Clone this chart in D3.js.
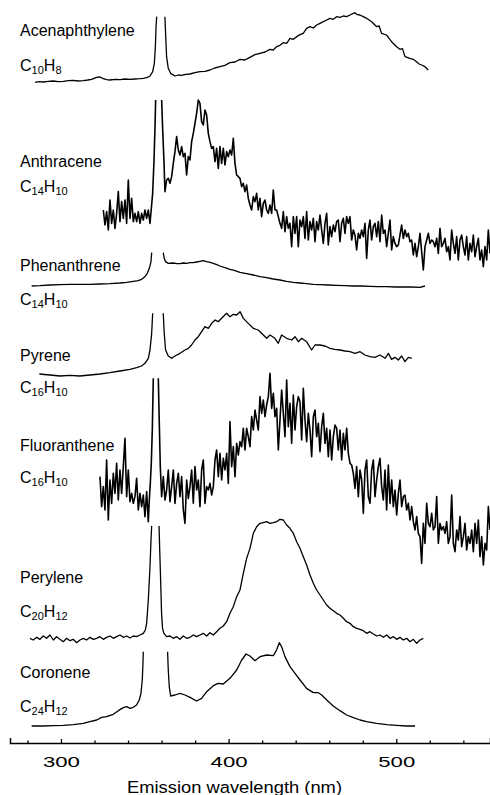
<!DOCTYPE html>
<html><head><meta charset="utf-8">
<script src="https://cdn.jsdelivr.net/npm/d3@7"></script>
<style>
body{margin:0;background:#fff}
svg{display:block}
text{font-family:Arial,"Liberation Sans",sans-serif;fill:#000}
</style>
</head><body>
<svg id="chart" width="490" height="795"></svg>
<script>
// ---------------- DATA ----------------
const compounds = ["Acenaphthylene","Anthracene","Phenanthrene","Pyrene","Fluoranthene","Perylene","Coronene"];
const formulas  = ["C10H8","C14H10","C14H10","C16H10","C16H10","C20H12","C24H12"];
// vertical offset of each stacked spectrum (a.u.)
const offsets   = [1979, 1404, 1364, 1094, 519, 299, 39];
const xDomain = [269.6, 555.9];         // nm
const yDomain = [0, 2229];              // stacked intensity (a.u.)
const majorTicks = [300, 400, 500];
const minorTicks = [280, 320, 340, 360, 380, 420, 440, 460, 480, 520, 540];
const axisTitle = "Emission wavelength (nm)";

// [wavelength nm, intensity a.u.]; null = off-scale (clipped scatter line)
const acenaphthylene = [[284.5,3],[287.0,5],[289.5,4],[292.4,6],[295.4,7],[298.4,5],[301.4,6],[304.4,8],[307.4,9],[310.3,7],[313.3,8],[316.0,10],[318.3,12],[321.3,18],[323.3,19],[325.2,14],[327.2,11],[329.2,10],[332.2,12],[335.2,11],[338.2,13],[341.2,12],[344.1,13],[347.1,14],[349.1,15],[351.1,17],[353.1,22],[354.7,35],[355.7,60],[356.3,110],[356.7,170],[357.1,200],null,[362.0,200],[362.4,150],[363.0,80],[364.0,45],[365.4,30],[368.0,22],[370.0,25],[372.0,24],[374.4,27],[376.9,28],[379.9,32],[382.9,35],[385.9,36],[388.9,40],[391.8,46],[394.8,50],[397.8,54],[400.8,62],[403.8,64],[406.8,72],[409.7,70],[412.7,78],[415.7,86],[418.7,90],[421.7,94],[424.7,102],[426.6,100],[428.6,110],[430.6,114],[432.6,122],[434.6,120],[436.6,135],[438.6,132],[440.6,140],[442.5,146],[444.5,150],[446.5,165],[448.5,170],[450.5,166],[452.5,175],[454.5,180],[456.5,185],[458.5,190],[460.4,195],[462.4,192],[464.4,200],[466.4,198],[468.4,202],[470.4,200],[472.4,205],[475.3,212],[476.8,206],[478.3,205],[480.3,200],[482.3,195],[485.3,185],[488.3,170],[489.8,172],[491.2,150],[494.2,145],[495.7,135],[497.2,125],[500.2,110],[502.2,102],[503.7,104],[505.2,80],[508.1,75],[510.1,72],[512.1,65],[513.6,58],[515.1,55],[517.1,50],[519.1,40]];

const gridStep = 0.9942; // nm, sampling of the noisy spectra
const anthraceneLeftStart = 325.25;
const anthraceneLeft = [195,150,190,135,225,155,195,140,185,250,160,220,170,225,155,285,170,230,160,185,160,190,155,185,165,195,170,195,155,210];
const anthracenePeak = [[354.68,245],[355.47,340],[356.07,440],[356.47,525],null,[360.05,525],[360.64,440],[361.44,340]];
const anthraceneRightStart = 362.03;
const anthraceneRight = [250,285,290,275,295,335,370,415,375,360,385,355,365,300,355,345,400,425,455,485,525,515,460,450,495,480,425,400,380,385,340,380,320,385,335,380,330,370,355,375,360,410,335,300,295,290,265,275,250,270,230,210,195,235,220,245,195,230,175,215,225,195,185,210,185,255,195,195,175,155,140,190,130,175,140,
155,85,175,125,175,85,165,145,175,110,190,105,160,135,170,100,160,135,180,135,95,155,185,90,145,115,150,130,160,165,100,155,170,125,175,155,175,105,135,120,75,125,110,135,115,155,50,135,165,105,145,155,115,160,100,180,125,135,85,125,165,75,115,95,85,90,120,150,110,135,115,125,100,105,60,95,55,85,125,70,15,85,105,125,95,105,100,85,110,65,140,85,95,110,70,85,45,135,95,65,115,45,105,120,85,60,115,45,95,70,120,55,85,110,45,75,25,85,45,135,65];

const phenanthrene = [[282.5,7],[287.5,8],[293.4,10],[299.4,11],[305.4,12],[311.3,12],[317.3,12],[323.3,13],[329.2,14],[335.2,16],[339.2,18],[343.1,21],[346.1,23],[348.1,27],[350.1,35],[351.5,45],[352.7,60],[353.7,80],[354.1,107],null,[361.0,107],[361.6,90],[362.4,80],[364.0,75],[367.0,76],[369.0,74],[371.0,74],[373.0,76],[375.0,75],[377.0,77],[378.9,77],[380.9,79],[382.9,81],[384.9,83],[386.9,80],[388.9,78],[390.9,75],[392.9,71],[394.8,67],[397.8,62],[400.8,57],[403.8,53],[406.8,48],[410.7,44],[414.7,40],[418.7,35],[422.7,32],[426.6,28],[430.6,25],[434.6,21],[438.6,18],[442.5,16],[446.5,14],[450.5,12],[454.5,11],[459.4,10],[464.4,9],[469.4,8],[474.4,7],[479.3,7],[484.3,6],[489.3,5],[494.3,5],[499.2,4],[504.2,4],[509.1,4],[514.1,3],[517.1,7]];

const pyrene = [[287.1,13],[293.4,10],[299.4,7],[305.4,9],[311.3,7],[317.3,10],[323.3,13],[329.2,17],[335.2,22],[341.2,27],[345.1,32],[348.1,37],[350.1,45],[352.1,60],[353.1,85],[354.1,135],[354.7,195],null,[361.0,195],[361.6,135],[362.4,85],[364.0,67],[366.0,60],[368.0,67],[371.0,75],[374.0,85],[376.0,90],[377.9,100],[379.9,115],[381.9,125],[383.9,140],[385.9,155],[387.9,150],[389.9,165],[391.9,175],[393.8,170],[395.8,180],[398.8,195],[400.8,185],[402.8,192],[404.8,190],[406.8,200],[408.8,180],[411.7,165],[414.7,150],[417.7,145],[420.7,130],[422.7,120],[424.7,130],[427.6,120],[429.6,105],[431.6,130],[434.6,120],[437.6,115],[439.6,125],[441.6,110],[443.6,120],[446.5,110],[449.5,85],[451.5,100],[454.5,100],[457.5,97],[460.5,90],[463.4,87],[466.4,85],[469.4,82],[472.4,80],[475.4,75],[478.4,80],[481.3,70],[484.3,65],[487.3,63],[490.3,70],[493.3,60],[495.3,75],[497.2,57],[499.2,63],[501.2,55],[503.2,67],[505.2,50],[507.2,63],[509.2,60]];

const fluorantheneLeftStart = 323.26;
const fluorantheneLeft = [280,190,250,180,330,150,270,200,290,230,320,210,300,230,310,395,220,300,205,230,200,220,275,180,230,190,225,160,235,145];
const fluorranthenePeak = [[352.69,210],[353.29,260],[353.88,320],[354.48,420],[355.07,575],null,[358.06,575],[358.65,440],[359.25,310]];
const fluorantheneRightStart = 360.05;
const fluorantheneRight = [220,280,210,240,300,205,250,300,200,260,290,220,280,180,140,270,215,250,300,200,310,240,270,190,300,330,200,250,240,260,225,250,330,360,280,350,270,335,300,350,260,445,310,370,280,380,345,385,370,425,360,425,400,370,460,420,480,450,420,520,470,510,460,495,520,590,485,530,460,485,360,450,540,470,400,570,430,
500,380,525,420,490,520,505,390,545,450,385,470,420,340,460,480,400,440,355,430,470,380,425,340,420,330,400,435,425,360,420,330,410,360,425,350,320,315,290,245,310,220,300,270,170,300,330,220,200,300,330,220,270,310,335,250,210,300,180,315,200,270,190,240,165,230,270,190,220,225,180,200,150,190,145,120,160,110,100,20,140,80,200,140,130,170,120,130,220,80,140,120,130,110,145,80,100,225,80,55,120,90,160,70,100,140,60,100,80,120,55,140,80,150,40,100,15,80,60,190,120];

const peryleneStep = 1.9883;
const peryleneLeftStart = 281.51;
const peryleneLeft = [15,10,18,12,22,15,25,10,20,12,5,15,8,12,2,10,15,10,18,12,15,20,12,18,22,15,20,25,18,22,16,22,20,25,30];
const perylenePeak = [[350.3,40],[351.1,60],[352.1,130],[353.1,230],[353.7,310],[354.1,352],null,[358.5,352],[358.9,280],[359.5,180],[360.0,90],[360.6,45],[361.4,30]];
const peryleneRightStart = 363.03;
const peryleneRight = [20,22,15,20,12,22,15,18,25,20,25,30,22,32,25,35,45,52,65,90,110,140,160,210,255,285,330,350,360,362,365,360,362,365,372,370,355,345,330,305,285,260,235,205,180,160,145,130,115,105,98,90,85,75,65,60,50,45,42,38,30,35,28,22,25,18,25,15,20,12,18,10,15,5,12,0,10,15];

const coronene = [[282.5,12],[289.5,12],[295.4,13],[301.4,14],[307.4,16],[313.3,20],[317.3,25],[321.3,30],[324.3,38],[327.2,40],[331.2,47],[334.2,58],[337.2,67],[339.2,70],[341.2,65],[343.1,68],[345.1,75],[346.7,90],[347.7,110],[348.5,150],[348.9,200],[349.1,235],null,[363.6,235],[364.0,180],[364.6,130],[365.4,102],[368.0,105],[371.0,110],[374.0,105],[377.0,98],[380.9,87],[383.9,95],[386.9,115],[390.9,133],[393.8,140],[396.8,138],[400.8,155],[404.8,180],[407.8,210],[410.4,228],[412.7,222],[415.7,208],[418.7,220],[422.7,225],[426.7,223],[428.6,240],[430.2,262],[431.6,250],[433.6,220],[436.6,190],[439.6,170],[442.6,150],[446.5,125],[450.5,112],[453.5,112],[455.5,105],[458.5,90],[462.4,72],[466.4,58],[470.4,45],[474.4,37],[478.4,30],[482.3,25],[488.3,20],[494.3,16],[500.2,14],[506.2,12],[511.2,12]];

// ---------------- LAYOUT ----------------
const labelX = 20;
const labelBaselines = [[36,71],[166.5,191.5],[270.5,304.5],[360.5,393],[451,483],[583,616.5],[678,711.5]];
const noisy = [false, true, false, false, true, false, false];

function fromGrid(start, step, vals){ return vals.map((v,i)=>[start+i*step, v]); }

const spectra = [
  acenaphthylene,
  [...fromGrid(anthraceneLeftStart, gridStep, anthraceneLeft), ...anthracenePeak, ...fromGrid(anthraceneRightStart, gridStep, anthraceneRight)],
  phenanthrene,
  pyrene,
  [...fromGrid(fluorantheneLeftStart, gridStep, fluorantheneLeft), ...fluorranthenePeak, ...fromGrid(fluorantheneRightStart, gridStep, fluorantheneRight)],
  [...fromGrid(peryleneLeftStart, peryleneStep, peryleneLeft), ...perylenePeak, ...fromGrid(peryleneRightStart, peryleneStep, peryleneRight)],
  coronene
];

// ---------------- DRAW ----------------
const svg = d3.select("#chart");
const x = d3.scaleLinear().domain(xDomain).range([10, 490]);
const y = d3.scaleLinear().domain(yDomain).range([743, 0]);

spectra.forEach((pts, i) => {
  const line = d3.line().defined(d => d !== null)
    .x(d => x(d[0])).y(d => y(d[1] + offsets[i]));
  svg.append("path").datum(pts).attr("d", line)
    .attr("fill", "none").attr("stroke", "#000")
    .attr("stroke-width", noisy[i] ? 1.6 : 1.3).attr("stroke-linejoin", "round");
});

// labels
compounds.forEach((name, i) => {
  svg.append("text").attr("x", labelX).attr("y", labelBaselines[i][0])
    .attr("font-size", 16).text(name);
  const t = svg.append("text").attr("x", labelX).attr("y", labelBaselines[i][1]).attr("font-size", 16);
  let shifted = false;
  formulas[i].match(/[A-Z][a-z]?|\d+/g).forEach(tok => {
    if (/\d/.test(tok)) {
      t.append("tspan").attr("font-size", 11).attr("dy", shifted ? 0 : 3).text(tok);
      shifted = true;
    } else {
      t.append("tspan").attr("dy", shifted ? -3 : 0).text(tok);
      shifted = false;
    }
  });
});

// axis
const gAxis = svg.append("g").attr("transform", "translate(0,743)");
gAxis.call(d3.axisBottom(x).tickValues(majorTicks).tickSizeInner(-4).tickSizeOuter(-5).tickPadding(12.7));
const gMinor = svg.append("g").attr("transform", "translate(0,743)");
gMinor.call(d3.axisBottom(x).tickValues(minorTicks).tickSizeInner(-2.5).tickSizeOuter(0).tickFormat(""));
gMinor.select(".domain").remove();
svg.selectAll(".tick line").attr("stroke", "#000").attr("stroke-width", 1.3);
gAxis.select(".domain").attr("stroke", "#000").attr("stroke-width", 1.5);
gAxis.selectAll(".tick text")
  .attr("font-size", 15.5).attr("font-family", "Arial, 'Liberation Sans', sans-serif")
  .attr("fill", "#000").attr("textLength", 37).attr("lengthAdjust", "spacingAndGlyphs");

svg.append("text").attr("x", 234.5).attr("y", 793).attr("text-anchor", "middle")
  .attr("font-size", 16.3).attr("textLength", 215).attr("lengthAdjust", "spacingAndGlyphs")
  .text(axisTitle);
</script>
</body></html>
